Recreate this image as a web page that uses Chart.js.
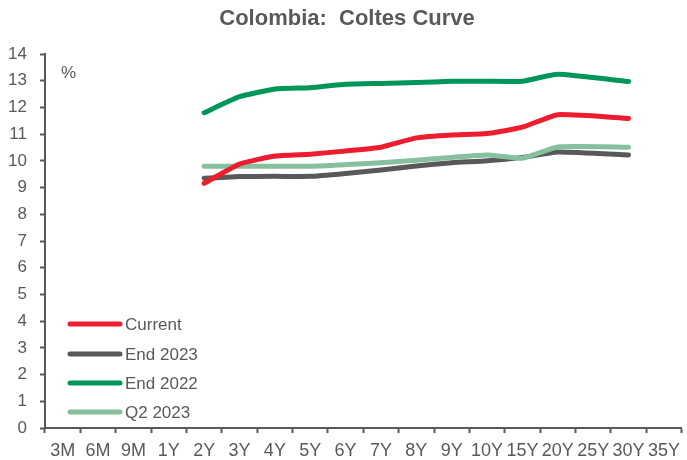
<!DOCTYPE html>
<html>
<head>
<meta charset="utf-8">
<script src="https://cdn.jsdelivr.net/npm/chart.js@4/dist/chart.umd.min.js"></script>
<style>
  html, body { margin: 0; padding: 0; background: #ffffff; }
  #wrap { width: 687px; height: 460px; position: relative; }
</style>
</head>
<body>
<div id="wrap"><canvas id="c"></canvas></div>
<script>
// Tenors on the Coltes curve
const tenors = ['3M', '6M', '9M', '1Y', '2Y', '3Y', '4Y', '5Y', '6Y', '7Y', '8Y', '9Y', '10Y', '15Y', '20Y', '25Y', '30Y', '35Y'];

// Yields (%) per tenor; null where no bond trades
const current  = [null, null, null, null, 9.16, 9.88, 10.18, 10.25, 10.37, 10.51, 10.86, 10.97, 11.02, 11.26, 11.73, null, 11.59, null];
const end2023  = [null, null, null, null, 9.35, 9.41, 9.42, 9.42, 9.53, 9.66, 9.81, 9.93, 10.00, 10.13, 10.33, null, 10.22, null];
const end2022  = [null, null, null, null, 11.80, 12.40, 12.69, 12.74, 12.87, 12.90, 12.93, 12.98, 12.98, 12.98, 13.24, null, 12.97, null];
const q22023   = [null, null, null, null, 9.80, 9.80, 9.80, 9.80, 9.86, 9.93, 10.02, 10.13, 10.22, 10.10, 10.52, null, 10.51, null];

const yTicks = [0, 1, 2, 3, 4, 5, 6, 7, 8, 9, 10, 11, 12, 13, 14];

const TEXT = '#595959';
const FONT = '"Liberation Sans", Arial, sans-serif';

function series(label, data, color, order) {
  return {
    label, data, order,
    borderColor: color,
    backgroundColor: color,
    borderWidth: 5,
    borderCapStyle: 'round',
    borderJoinStyle: 'round',
    pointRadius: 0,
    tension: 0.15,
    spanGaps: true,
    fill: false
  };
}

// Title, unit label and in-plot legend
const decorations = {
  id: 'decorations',
  afterDraw(chart) {
    const ctx = chart.ctx;
    ctx.save();
    ctx.fillStyle = TEXT;
    ctx.textBaseline = 'middle';

    ctx.font = 'bold 22px ' + FONT;
    ctx.textAlign = 'center';
    ctx.fillText('Colombia:  Coltes Curve', 347, 19);

    ctx.font = '17px ' + FONT;
    ctx.textAlign = 'left';
    ctx.fillText('%', 61, 73);

    const items = [0, 1, 2, 3].map(i => chart.data.datasets[i]);
    const rowY = [324, 354, 383, 412];
    items.forEach((ds, i) => {
      const y = rowY[i];
      ctx.strokeStyle = ds.borderColor;
      ctx.lineWidth = 5;
      ctx.lineCap = 'round';
      ctx.beginPath();
      ctx.moveTo(70, y);
      ctx.lineTo(120, y);
      ctx.stroke();
      ctx.fillStyle = TEXT;
      ctx.fillText(ds.label, 125, y + 1);
    });
    ctx.restore();
  }
};

new Chart(document.getElementById('c'), {
  type: 'line',
  data: {
    labels: tenors,
    datasets: [
      series('Current', current, '#ED1C2E', 0),
      series('End 2023', end2023, '#595959', 2),
      series('End 2022', end2022, '#00965A', 3),
      series('Q2 2023', q22023, '#86C09C', 1)
    ]
  },
  options: {
    responsive: true,
    maintainAspectRatio: false,
    animation: false,
    devicePixelRatio: 1,
    layout: { padding: { top: 54, right: 3, bottom: 0, left: 0 } },
    plugins: {
      legend: { display: false },
      title: { display: false },
      tooltip: { enabled: false }
    },
    scales: {
      x: {
        type: 'category',
        offset: true,
        grid: {
          display: true,
          drawOnChartArea: false,
          drawTicks: true,
          tickLength: 5,
          tickWidth: 2,
          color: TEXT,
          offset: true
        },
        border: { display: true, color: TEXT, width: 2 },
        ticks: {
          color: TEXT,
          font: { family: FONT, size: 18 },
          padding: 7,
          maxRotation: 0,
          autoSkip: false
        },
        afterFit(scale) { scale.height = 32; }
      },
      y: {
        min: 0,
        max: 14,
        afterBuildTicks(scale) { scale.ticks = yTicks.map(v => ({ value: v })); },
        grid: {
          display: true,
          drawOnChartArea: false,
          drawTicks: true,
          tickLength: 5,
          tickWidth: 2,
          color: TEXT
        },
        border: { display: true, color: TEXT, width: 2 },
        ticks: {
          color: TEXT,
          font: { family: FONT, size: 17 },
          padding: 13
        },
        afterFit(scale) { scale.width = 45; }
      }
    }
  },
  plugins: [decorations]
});
</script>
</body>
</html>
